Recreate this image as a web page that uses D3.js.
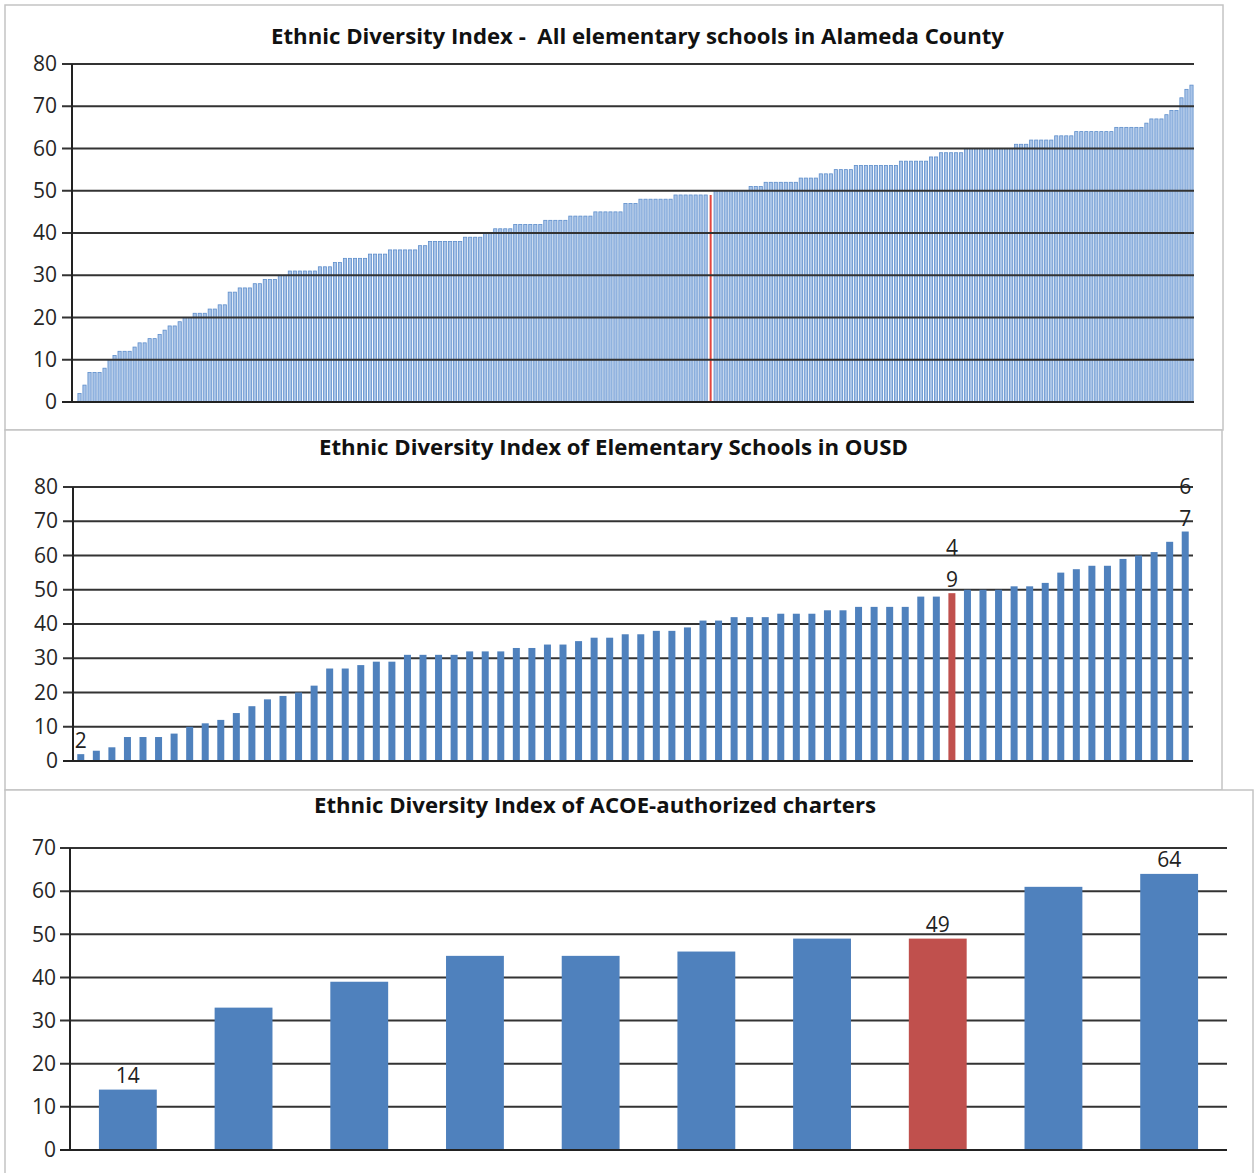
<!DOCTYPE html>
<html>
<head>
<meta charset="utf-8">
<script src="https://cdn.jsdelivr.net/npm/d3@7/dist/d3.min.js"></script>
<style>
  body { margin: 0; background: #fff; }
  svg { display: block; font-family: 'Open Sans', sans-serif; }
</style>
</head>
<body>
<div id="root"></div>
<script>
// --- data ---
const countyValues = [
  0, 2, 4, 7, 7, 7, 8, 10, 11, 12, 12, 12, 13, 14, 14, 15, 15, 16, 17, 18, 18, 19, 20, 20,
  21, 21, 21, 22, 22, 23, 23, 26, 26, 27, 27, 27, 28, 28, 29, 29, 29, 30, 30,
  31, 31, 31, 31, 31, 31, 32, 32, 32, 33, 33, 34, 34, 34, 34, 34, 35, 35, 35, 35,
  36, 36, 36, 36, 36, 36, 37, 37, 38, 38, 38, 38, 38, 38, 38, 39, 39, 39, 39, 40, 40,
  41, 41, 41, 41, 42, 42, 42, 42, 42, 42, 43, 43, 43, 43, 43, 44, 44, 44, 44, 44,
  45, 45, 45, 45, 45, 45, 47, 47, 47, 48, 48, 48, 48, 48, 48, 48,
  49, 49, 49, 49, 49, 49, 49, 49,
  50, 50, 50, 50, 50, 50, 50, 51, 51, 51, 52, 52, 52, 52, 52, 52, 52,
  53, 53, 53, 53, 54, 54, 54, 55, 55, 55, 55, 56, 56, 56, 56, 56, 56, 56, 56, 56,
  57, 57, 57, 57, 57, 57, 58, 58, 59, 59, 59, 59, 59,
  60, 60, 60, 60, 60, 60, 60, 60, 60, 60, 61, 61, 61, 62, 62, 62, 62, 62,
  63, 63, 63, 63, 64, 64, 64, 64, 64, 64, 64, 64, 65, 65, 65, 65, 65, 65,
  66, 67, 67, 67, 68, 69, 69, 72, 74, 75
]
const countyHighlight = 127
const countyTicks = [0, 10, 20, 30, 40, 50, 60, 70, 80]

const ousdValues = [
  2, 3, 4, 7, 7, 7, 8, 10, 11, 12, 14, 16, 18, 19, 20, 22, 27, 27, 28, 29, 29, 31,
  31, 31, 31, 32, 32, 32, 33, 33, 34, 34, 35, 36, 36, 37, 37, 38, 38, 39,
  41, 41, 42, 42, 42, 43, 43, 43, 44, 44, 45, 45, 45, 45, 48, 48, 49,
  50, 50, 50, 51, 51, 52, 55, 56, 57, 57, 59, 60, 61, 64, 67
]
const ousdHighlight = 56
const ousdLabelled = [0, 56, 71]
const ousdTicks = [0, 10, 20, 30, 40, 50, 60, 70, 80]

const charterValues = [14, 33, 39, 45, 45, 46, 49, 49, 61, 64]
const charterHighlight = 7
const charterLabelled = [0, 7, 9]
const charterTicks = [0, 10, 20, 30, 40, 50, 60, 70]

const titles = [
  'Ethnic Diversity Index -  All elementary schools in Alameda County',
  'Ethnic Diversity Index of Elementary Schools in OUSD',
  'Ethnic Diversity Index of ACOE-authorized charters'
]

const WIDTH = 1255
const HEIGHT = 1173
const BLUE = '#4f81bd'
const RED = '#c0504d'
const GRID = '#333'

const svg = d3.select('#root')
  .append('svg')
  .attr('width', WIDTH)
  .attr('height', HEIGHT)

svg.append('rect').attr('width', WIDTH).attr('height', HEIGHT).attr('fill', '#fff')

const drawPanel = (p) => {
  const g = svg.append('g')

  g.append('rect')
    .attr('x', p.box[0]).attr('y', p.box[1])
    .attr('width', p.box[2] - p.box[0]).attr('height', p.box[3] - p.box[1])
    .attr('fill', '#fff')
    .attr('stroke', '#c4c4c4')
    .attr('stroke-width', 1.5)

  g.append('text')
    .attr('x', p.titleX).attr('y', p.titleY)
    .attr('text-anchor', 'middle')
    .attr('font-size', 21)
    .attr('font-weight', 700)
    .attr('fill', '#111')
    .style('white-space', 'pre')
    .attr('textLength', p.titleW)
    .attr('lengthAdjust', 'spacingAndGlyphs')
    .text(p.title)

  const x = d3.scaleBand()
    .domain(d3.range(p.values.length))
    .range([p.x0, p.x1])
    .paddingInner(p.pad)
    .paddingOuter(p.pad / 2)

  const y = d3.scaleLinear()
    .domain([0, d3.max(p.ticks)])
    .range([p.yBottom, p.yTop])

  const gridG = g.append('g')
  const barG = g.append('g')
  if (p.gridOnTop) gridG.raise()

  // gridlines, extending left as tick marks
  gridG.selectAll('line')
    .data(p.ticks)
    .enter()
    .append('line')
    .attr('x1', p.x0 - 10).attr('x2', p.x1)
    .attr('y1', d => y(d)).attr('y2', d => y(d))
    .attr('stroke', GRID)
    .attr('stroke-width', 2)

  const yAxis = d3.axisLeft(y).tickValues(p.ticks).tickSize(10).tickPadding(p.tickPad)
  const axisG = g.append('g')
    .attr('transform', `translate(${p.x0},0)`)
    .call(yAxis)
  axisG.select('.domain').remove()
  axisG.selectAll('line').remove()
  axisG.selectAll('text')
    .attr('font-size', 21)
    .attr('font-family', "'Open Sans', sans-serif")
    .attr('fill', '#262626')

  barG.selectAll('rect')
    .data(p.values)
    .enter()
    .append('rect')
    .attr('x', (d, i) => i === p.highlight && p.thinHighlight
      ? x(i) + x.bandwidth() / 2 - p.thinHighlight / 2 : x(i))
    .attr('width', (d, i) => i === p.highlight && p.thinHighlight ? p.thinHighlight : x.bandwidth())
    .attr('y', d => y(d))
    .attr('height', d => y(0) - y(d))
    .attr('fill', (d, i) => i === p.highlight ? p.redFill : p.fill)
    .attr('stroke', (d, i) => i === p.highlight ? 'none' : p.stroke)
    .attr('stroke-width', p.strokeW)

  g.append('line')
    .attr('x1', p.x0).attr('x2', p.x0)
    .attr('y1', y(d3.max(p.ticks))).attr('y2', p.yBottom)
    .attr('stroke', '#222')
    .attr('stroke-width', 2)

  // baseline on top of bars
  g.append('line')
    .attr('x1', p.x0 - 10).attr('x2', p.x1)
    .attr('y1', y(0)).attr('y2', y(0))
    .attr('stroke', '#222')
    .attr('stroke-width', 2)

  if (p.labelled) {
    const lab = g.append('g')
      .selectAll('text')
      .data(p.labelled)
      .enter()
      .append('text')
      .attr('text-anchor', 'middle')
      .attr('font-size', 21)
      .attr('fill', '#222')
      .attr('x', i => x(i) + x.bandwidth() / 2)
    if (p.splitDigits) {
      // the reference wraps two-digit labels onto two lines
      lab.each(function (i) {
        const digits = String(p.values[i]).split('')
        const t = d3.select(this)
        digits.forEach((c, k) => {
          t.append('tspan')
            .attr('x', x(i) + x.bandwidth() / 2)
            .attr('y', y(p.values[i]) - 6 - (digits.length - 1 - k) * 32)
            .text(c)
        })
      })
    } else {
      lab.attr('y', i => y(p.values[i]) - 7).text(i => p.values[i])
    }
  }
}

drawPanel({
  box: [5, 5, 1223, 430], title: titles[0], titleX: 637.5, titleY: 44, titleW: 733,
  values: countyValues, highlight: countyHighlight, ticks: countyTicks, gridOnTop: true,
  x0: 72, x1: 1194, yTop: 64, yBottom: 402, pad: 0.36, tickPad: 5,
  fill: '#a9c4e8', stroke: '#5e8ecb', strokeW: 0.8, redFill: '#e2463f', thinHighlight: 2
})

drawPanel({
  box: [5, 430, 1222, 790], title: titles[1], titleX: 613.5, titleY: 455, titleW: 589,
  values: ousdValues, highlight: ousdHighlight, ticks: ousdTicks, labelled: ousdLabelled, splitDigits: true,
  x0: 73, x1: 1193, yTop: 487, yBottom: 761, pad: 0.55, tickPad: 5,
  fill: BLUE, stroke: 'none', strokeW: 0, redFill: RED
})

drawPanel({
  box: [5, 790, 1253, 1180], title: titles[2], titleX: 595, titleY: 813, titleW: 562,
  values: charterValues, highlight: charterHighlight, ticks: charterTicks, labelled: charterLabelled,
  x0: 70, x1: 1227, yTop: 848, yBottom: 1150, pad: 0.5, tickPad: 4,
  fill: BLUE, stroke: 'none', strokeW: 0, redFill: RED
})
</script>
</body>
</html>
